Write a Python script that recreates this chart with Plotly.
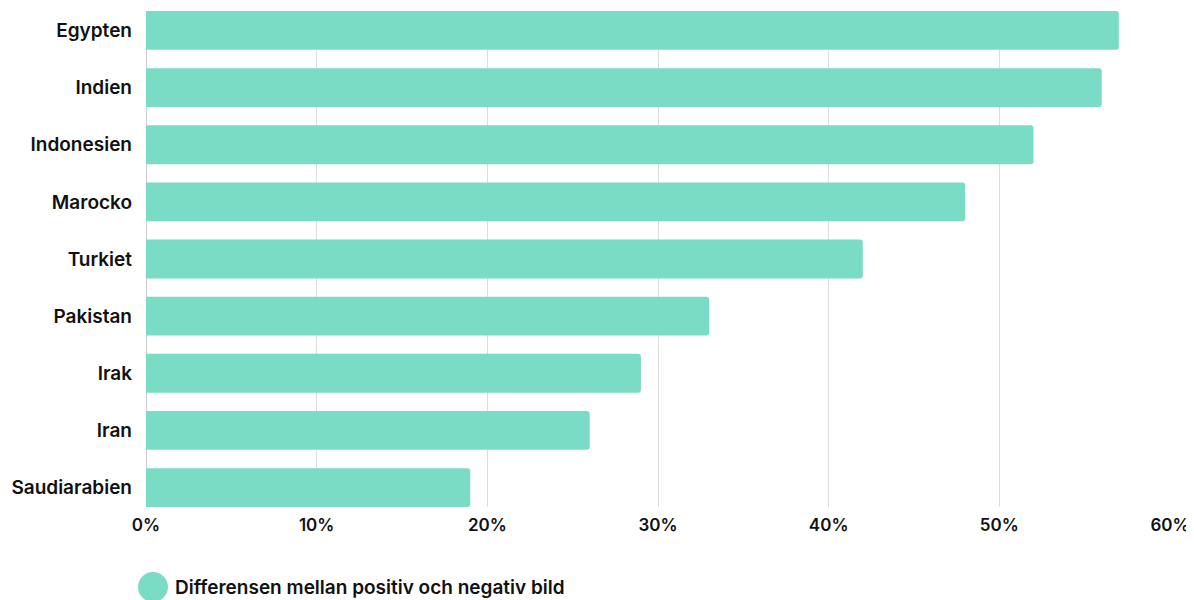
import plotly.graph_objects as go

countries = ["Egypten", "Indien", "Indonesien", "Marocko", "Turkiet",
             "Pakistan", "Irak", "Iran", "Saudiarabien"]
values = [57, 56, 52, 48, 42, 33, 29, 26, 19]
series_name = "Differensen mellan positiv och negativ bild"
x_ticks = [0, 10, 20, 30, 40, 50, 60]
x_tick_labels = ["0%", "10%", "20%", "30%", "40%", "50%", "60%"]

BAR_COLOR = "#7ADCC4"
FONT = "Inter"

# page body has an 8px margin, so the figure starts at (8, 8)
W, H = 1186, 592
L, R, T, B = 136, 24, 3, 93
PW, PH = W - L - R, H - T - B

fig = go.Figure()
fig.add_trace(go.Bar(
    y=countries, x=values, orientation="h",
    marker=dict(color=BAR_COLOR, cornerradius=3, line=dict(width=0)),
    name=series_name, showlegend=False,
))

fig.update_layout(
    width=W, height=H,
    margin=dict(l=L, r=R, t=T, b=B),
    plot_bgcolor="white", paper_bgcolor="white",
    bargap=0.32,
    font=dict(family=FONT, color="#111111"),
    xaxis=dict(
        range=[0, 60], tickvals=x_ticks, ticktext=x_tick_labels,
        showgrid=True, gridcolor="#dddddd", gridwidth=1,
        zeroline=True, zerolinecolor="#cccccc", zerolinewidth=1,
        showline=False, ticks="", ticklabelstandoff=6,
        tickfont=dict(family=FONT, size=17, weight=600, color="#111111"),
        fixedrange=True,
    ),
    yaxis=dict(
        autorange=False, range=[len(countries) - 1 + 0.34, -0.34],
        categoryorder="array", categoryarray=countries,
        showgrid=False, zeroline=False, showline=False, ticks="",
        ticklabelstandoff=13,
        tickfont=dict(family=FONT, size=19, weight=600, color="#111111"),
    ),
)

# Legend drawn as a circle + text
fig.add_shape(
    type="circle", xref="paper", yref="paper",
    xsizemode="pixel", ysizemode="pixel",
    xanchor=(143 - L) / PW, yanchor=(PH + T - 579) / PH,
    x0=-15, x1=15, y0=-15, y1=15,
    fillcolor=BAR_COLOR, line=dict(width=0),
)
fig.add_annotation(
    xref="paper", yref="paper",
    x=(163 - L) / PW, y=(PH + T - 579) / PH,
    xanchor="left", yanchor="middle", showarrow=False,
    text=series_name,
    font=dict(family=FONT, size=19, weight=600, color="#111111"),
)

fig.write_html("out.html")
